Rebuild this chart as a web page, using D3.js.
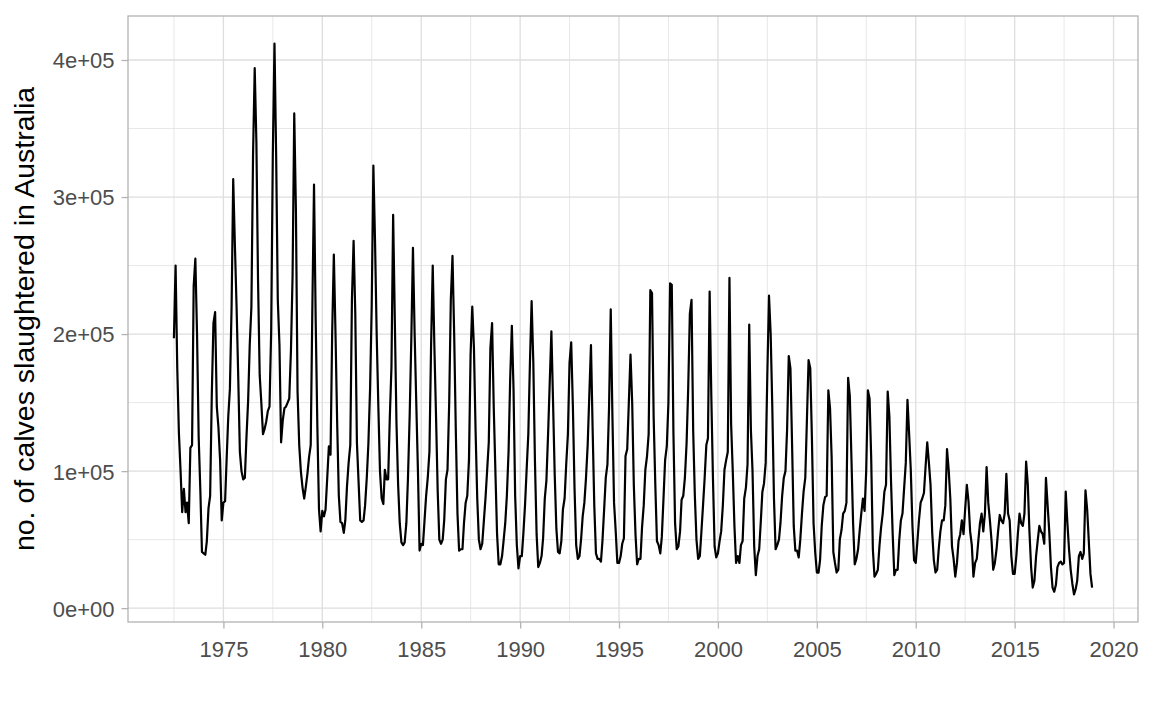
<!DOCTYPE html>
<html>
<head>
<meta charset="utf-8">
<script src="https://cdn.jsdelivr.net/npm/d3@7"></script>
<style>
    body { margin: 0; background: #ffffff; }
    #chart text { font-family: "Liberation Sans", Arial, sans-serif; }
</style>
</head>
<body>
<div id="chart"></div>
<script>
// first month of the series
const start_year = 1972;
const start_month = 7;

// calves slaughtered, thousands per month
const calves_k = [
    197, 250, 175, 128, 100, 70,                              // 1972 Jul-Dec
    87, 70, 77, 62, 117, 119, 235, 255, 200, 125, 86, 41,     // 1973
    40, 39, 49, 73, 82, 157, 208, 216, 147, 132, 108, 64,     // 1974
    77, 78, 108, 140, 160, 220, 313, 265, 220, 170, 114, 100, // 1975
    94, 95, 124, 151, 192, 220, 330, 394, 340, 240, 170, 150, // 1976
    127, 131, 136, 144, 147, 202, 330, 412, 330, 225, 192, 121, // 1977
    137, 146, 147, 150, 153, 188, 242, 361, 290, 158, 119, 100, // 1978
    88, 80, 88, 98, 110, 119, 218, 309, 210, 134, 72, 56,     // 1979
    71, 67, 72, 95, 118, 112, 200, 258, 200, 136, 82, 63,     // 1980
    62, 55, 64, 89, 106, 119, 225, 268, 215, 121, 92, 64,     // 1981
    63, 64, 75, 95, 120, 160, 220, 323, 267, 200, 147, 100,   // 1982
    80, 76, 101, 94, 94, 140, 176, 287, 210, 136, 90, 62,     // 1983
    48, 46, 48, 62, 95, 140, 195, 263, 200, 150, 100, 42,     // 1984
    47, 46, 63, 82, 95, 114, 190, 250, 190, 140, 85, 50,      // 1985
    47, 50, 64, 94, 101, 150, 225, 257, 200, 130, 69, 42,     // 1986
    43, 43, 62, 77, 82, 108, 185, 220, 190, 130, 80, 50,      // 1987
    43, 47, 63, 80, 100, 121, 190, 208, 146, 100, 54, 32,     // 1988
    32, 38, 49, 62, 82, 114, 167, 206, 160, 82, 46, 29,       // 1989
    38, 38, 54, 75, 101, 127, 179, 224, 180, 108, 54, 30,     // 1990
    33, 38, 51, 80, 93, 127, 164, 202, 150, 98, 58, 41,       // 1991
    40, 49, 72, 80, 105, 127, 179, 194, 147, 88, 46, 36,      // 1992
    38, 51, 67, 77, 95, 119, 155, 192, 130, 75, 40, 36,       // 1993
    36, 34, 49, 72, 95, 105, 147, 218, 140, 77, 56, 33,       // 1994
    33, 38, 47, 51, 111, 116, 150, 185, 150, 90, 54, 32,      // 1995
    36, 36, 59, 75, 101, 111, 127, 232, 230, 140, 90, 49,     // 1996
    46, 40, 52, 80, 108, 118, 150, 237, 236, 129, 62, 43,     // 1997
    45, 56, 79, 82, 95, 120, 160, 215, 225, 130, 82, 50,      // 1998
    36, 38, 55, 75, 95, 119, 124, 231, 155, 95, 45, 37,       // 1999
    40, 49, 56, 75, 101, 108, 114, 241, 134, 100, 60, 33,     // 2000
    38, 33, 46, 49, 80, 88, 105, 207, 130, 100, 45, 24,       // 2001
    38, 43, 62, 85, 91, 106, 170, 228, 200, 147, 80, 43,      // 2002
    46, 50, 62, 82, 95, 100, 130, 184, 175, 120, 60, 42,      // 2003
    42, 37, 50, 69, 85, 95, 137, 181, 175, 125, 62, 41,       // 2004
    26, 26, 35, 60, 75, 81, 82, 159, 146, 110, 41, 33,        // 2005
    26, 28, 50, 57, 69, 71, 77, 168, 155, 110, 62, 32,        // 2006
    36, 43, 56, 69, 80, 71, 100, 159, 153, 110, 43, 23,       // 2007
    25, 28, 45, 59, 69, 85, 90, 158, 140, 93, 54, 24,         // 2008
    28, 28, 49, 64, 69, 88, 106, 152, 127, 101, 60, 35,       // 2009
    33, 49, 64, 77, 80, 84, 103, 121, 106, 90, 55, 35,        // 2010
    26, 28, 43, 56, 64, 64, 75, 116, 101, 80, 45, 36,         // 2011
    23, 33, 49, 54, 64, 54, 72, 90, 78, 56, 46, 23,           // 2012
    33, 36, 49, 62, 69, 56, 69, 103, 77, 64, 49, 28,          // 2013
    33, 43, 56, 68, 64, 62, 69, 98, 69, 64, 38, 25,           // 2014
    25, 38, 54, 69, 62, 60, 69, 107, 90, 56, 30, 15,          // 2015
    20, 38, 49, 60, 56, 54, 47, 95, 75, 56, 30, 15,           // 2016
    12, 17, 30, 33, 34, 32, 33, 85, 62, 43, 28, 18,           // 2017
    10, 14, 20, 38, 41, 36, 40, 86, 72, 49, 25, 15            // 2018
];

// axis ticks
const x_tick_years = [1975, 1980, 1985, 1990, 1995, 2000, 2005, 2010, 2015, 2020];
const y_tick_values = [0, 100000, 200000, 300000, 400000];
const y_tick_labels = ["0e+00", "1e+05", "2e+05", "3e+05", "4e+05"];
const y_title = "no. of calves slaughtered in Australia";

class CalvesChart {

    constructor(div_name) {
        // constants
        this.width = 1152;
        this.height = 711;
        this.panel = {left: 128, right: 1138, top: 16, bottom: 622};

        this.data = calves_k.map(function(v, i) {
            return {date: new Date(start_year, start_month - 1 + i, 1), value: v * 1000};
        });

        // ggplot style 5% expansion on both scales
        const d0 = this.data[0].date, d1 = this.data[this.data.length - 1].date;
        const dspan = d1 - d0;
        this.x = d3.scaleTime()
            .domain([new Date(+d0 - 0.05 * dspan), new Date(+d1 + 0.05 * dspan)])
            .range([this.panel.left, this.panel.right]);

        const ext = d3.extent(this.data, function(d) { return d.value; });
        const vspan = ext[1] - ext[0];
        this.y = d3.scaleLinear()
            .domain([ext[0] - 0.05 * vspan, ext[1] + 0.05 * vspan])
            .range([this.panel.bottom, this.panel.top]);

        d3.select(div_name).html("");
        this.svg = d3.select(div_name)
            .append("svg")
            .attr("width", this.width)
            .attr("height", this.height)
            .style("display", "block");
    }

    draw() {
        this._draw_grid();
        this._draw_line();
        this._draw_axes();
    }

    _draw_grid() {
        const x = this.x, y = this.y, p = this.panel;
        const g = this.svg.append("g").attr("class", "grid");

        // minor breaks sit half way between the major ones
        const x_major = x_tick_years.map(function(yr) { return new Date(yr, 0, 1); });
        const x_minor = [new Date(1972, 6, 2)].concat(x_major.map(function(d) {
            return new Date(d.getFullYear() + 2, 6, 2);
        }));
        const y_minor = y_tick_values.map(function(v) { return v + 50000; });

        g.selectAll(".minor_x").data(x_minor).enter().append("line")
            .attr("x1", function(d) { return x(d); }).attr("x2", function(d) { return x(d); })
            .attr("y1", p.top).attr("y2", p.bottom)
            .attr("stroke", "#dedede").attr("stroke-width", 0.7);
        g.selectAll(".minor_y").data(y_minor).enter().append("line")
            .attr("x1", p.left).attr("x2", p.right)
            .attr("y1", function(d) { return y(d); }).attr("y2", function(d) { return y(d); })
            .attr("stroke", "#dedede").attr("stroke-width", 0.7);

        g.selectAll(".major_x").data(x_major).enter().append("line")
            .attr("x1", function(d) { return x(d); }).attr("x2", function(d) { return x(d); })
            .attr("y1", p.top).attr("y2", p.bottom)
            .attr("stroke", "#dedede").attr("stroke-width", 1.3);
        g.selectAll(".major_y").data(y_tick_values).enter().append("line")
            .attr("x1", p.left).attr("x2", p.right)
            .attr("y1", function(d) { return y(d); }).attr("y2", function(d) { return y(d); })
            .attr("stroke", "#dedede").attr("stroke-width", 1.3);
    }

    _draw_line() {
        const x = this.x, y = this.y;
        const line = d3.line()
            .x(function(d) { return x(d.date); })
            .y(function(d) { return y(d.value); });

        this.svg.append("path")
            .datum(this.data)
            .attr("d", line)
            .attr("fill", "none")
            .attr("stroke", "#000000")
            .attr("stroke-width", 2.2)
            .attr("stroke-linejoin", "round");
    }

    _draw_axes() {
        const p = this.panel;

        // panel border
        this.svg.append("rect")
            .attr("x", p.left).attr("y", p.top)
            .attr("width", p.right - p.left).attr("height", p.bottom - p.top)
            .attr("fill", "none").attr("stroke", "#b3b3b3").attr("stroke-width", 1.3);

        const x_axis = d3.axisBottom(this.x)
            .tickValues(x_tick_years.map(function(yr) { return new Date(yr, 0, 1); }))
            .tickFormat(d3.timeFormat("%Y"))
            .tickSize(6.5).tickPadding(8);
        const gx = this.svg.append("g")
            .attr("transform", "translate(0," + p.bottom + ")")
            .call(x_axis);

        const y_axis = d3.axisLeft(this.y)
            .tickValues(y_tick_values)
            .tickFormat(function(d, i) { return y_tick_labels[i]; })
            .tickSize(6.5).tickPadding(7);
        const gy = this.svg.append("g")
            .attr("transform", "translate(" + p.left + ",0)")
            .call(y_axis);

        [gx, gy].forEach(function(g) {
            g.select(".domain").remove();
            g.selectAll(".tick line").attr("stroke", "#b3b3b3").attr("stroke-width", 1.3);
            g.selectAll(".tick text")
                .attr("fill", "#4d4d4d")
                .style("font-size", "22px");
        });
        gy.selectAll(".tick text").attr("dy", "0.36em");
        gx.selectAll(".tick text").attr("dy", "0.95em");

        this.svg.append("text")
            .attr("transform", "translate(34," + ((p.top + p.bottom) / 2) + ") rotate(-90)")
            .attr("text-anchor", "middle")
            .attr("fill", "#000000")
            .style("font-size", "28.5px")
            .text(y_title);
    }
}

const chart = new CalvesChart("#chart");
chart.draw();
</script>
</body>
</html>
